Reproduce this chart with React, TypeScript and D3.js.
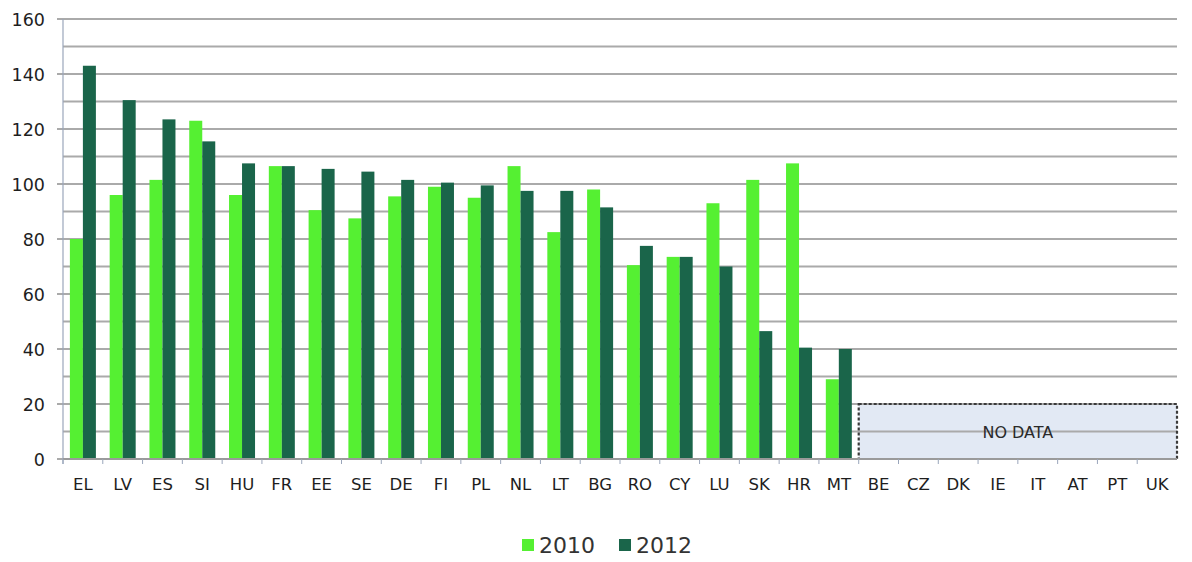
import React from "react";
import * as d3 from "d3";

// Countries in display order; the last eight have no data
const countries = [
  "EL", "LV", "ES", "SI", "HU", "FR", "EE", "SE", "DE", "FI",
  "PL", "NL", "LT", "BG", "RO", "CY", "LU", "SK", "HR", "MT",
  "BE", "CZ", "DK", "IE", "IT", "AT", "PT", "UK",
];
const noDataCountries = ["BE", "CZ", "DK", "IE", "IT", "AT", "PT", "UK"];
const noDataLabel = "NO DATA";
const noDataLevel = 20;

const series = ["2010", "2012"];
const values2010 = [
  80, 96, 101.5, 123, 96, 106.5, 90.5, 87.5, 95.5, 99,
  95, 106.5, 82.5, 98, 70.5, 73.5, 93, 101.5, 107.5, 29,
];
const values2012 = [
  143, 130.5, 123.5, 115.5, 107.5, 106.5, 105.5, 104.5, 101.5, 100.5,
  99.5, 97.5, 97.5, 91.5, 77.5, 73.5, 70, 46.5, 40.5, 40,
];
const yTicks = [0, 20, 40, 60, 80, 100, 120, 140, 160];
const yGrid = d3.range(0, 161, 10);

const colors: Record<string, string> = { "2010": "#55f032", "2012": "#1a654a" };
const font = "'DejaVu Sans', Verdana, sans-serif";

export default function App() {
  const width = 1192;
  const height = 562;
  const left = 63;
  const right = 1177;
  const top = 19;
  const bottom = 459;

  const x = d3.scaleBand<string>().domain(countries).range([left, right]).padding(0);
  const xs = d3
    .scaleBand<string>()
    .domain(series)
    .range([0, x.bandwidth()])
    .paddingInner(0)
    .paddingOuter(0.53);
  const y = d3.scaleLinear().domain([0, 160]).range([bottom, top]);

  const bars: { key: string; s: string; c: string; v: number }[] = [];
  countries.forEach((c, i) => {
    const a = values2010[i];
    const b = values2012[i];
    if (a != null) bars.push({ key: c + "a", s: "2010", c, v: a });
    if (b != null) bars.push({ key: c + "b", s: "2012", c, v: b });
  });

  const ndStart = x(noDataCountries[0])!;
  const ndEnd = x(noDataCountries[noDataCountries.length - 1])! + x.bandwidth();

  return (
    <svg
      width={width}
      height={height}
      style={{ position: "absolute", left: 0, top: 0, background: "#fff" }}
      fontFamily={font}
    >
      {/* no-data panel */}
      <rect
        x={ndStart}
        y={y(noDataLevel)}
        width={ndEnd - ndStart}
        height={y(0) - y(noDataLevel)}
        fill="#e2e9f4"
      />
      {/* gridlines */}
      {yGrid.map((t) => (
        <line
          key={t}
          x1={t % 20 === 0 ? left - 6 : left}
          x2={right}
          y1={y(t)}
          y2={y(t)}
          stroke="#aaaaaa"
          strokeWidth={1.8}
        />
      ))}
      <rect
        x={ndStart}
        y={y(noDataLevel)}
        width={ndEnd - ndStart}
        height={y(0) - y(noDataLevel)}
        fill="none"
        stroke="#3a3a3a"
        strokeWidth={2.2}
        strokeDasharray="3,2"
      />
      <text
        x={(ndStart + ndEnd) / 2}
        y={(y(noDataLevel) + y(0)) / 2 + 6}
        textAnchor="middle"
        fontSize={16}
        fill="#2a2a2a"
      >
        {noDataLabel}
      </text>
      {/* bars */}
      {bars.map((d) => (
        <rect
          key={d.key}
          x={x(d.c)! + xs(d.s)!}
          y={y(d.v)}
          width={xs.bandwidth()}
          height={y(0) - y(d.v)}
          fill={colors[d.s]}
        />
      ))}
      {/* axes */}
      <line x1={left} x2={left} y1={top} y2={bottom + 5} stroke="#9aa6bb" strokeWidth={1.2} />
      <line x1={left} x2={right} y1={bottom} y2={bottom} stroke="#9a9a9a" strokeWidth={1.8} />
      {countries.map((c) => (
        <line
          key={"t" + c}
          x1={x(c)!}
          x2={x(c)!}
          y1={bottom}
          y2={bottom + 5}
          stroke="#9aa6bb"
          strokeWidth={1}
        />
      ))}
      {yTicks.map((t) => (
        <text key={"yl" + t} x={45} y={y(t) + 6.5} textAnchor="end" fontSize={17.5} fill="#1e1e1e">
          {t}
        </text>
      ))}
      {countries.map((c) => (
        <text
          key={"xl" + c}
          x={x(c)! + x.bandwidth() / 2}
          y={490}
          textAnchor="middle"
          fontSize={16.5}
          fill="#1e1e1e"
        >
          {c}
        </text>
      ))}
      {/* legend */}
      <g>
        <rect x={522} y={539} width={12} height={12} fill={colors["2010"]} />
        <text x={539} y={553} fontSize={22} fill="#333">
          {series[0]}
        </text>
        <rect x={619} y={539} width={12} height={12} fill={colors["2012"]} />
        <text x={636} y={553} fontSize={22} fill="#333">
          {series[1]}
        </text>
      </g>
    </svg>
  );
}
